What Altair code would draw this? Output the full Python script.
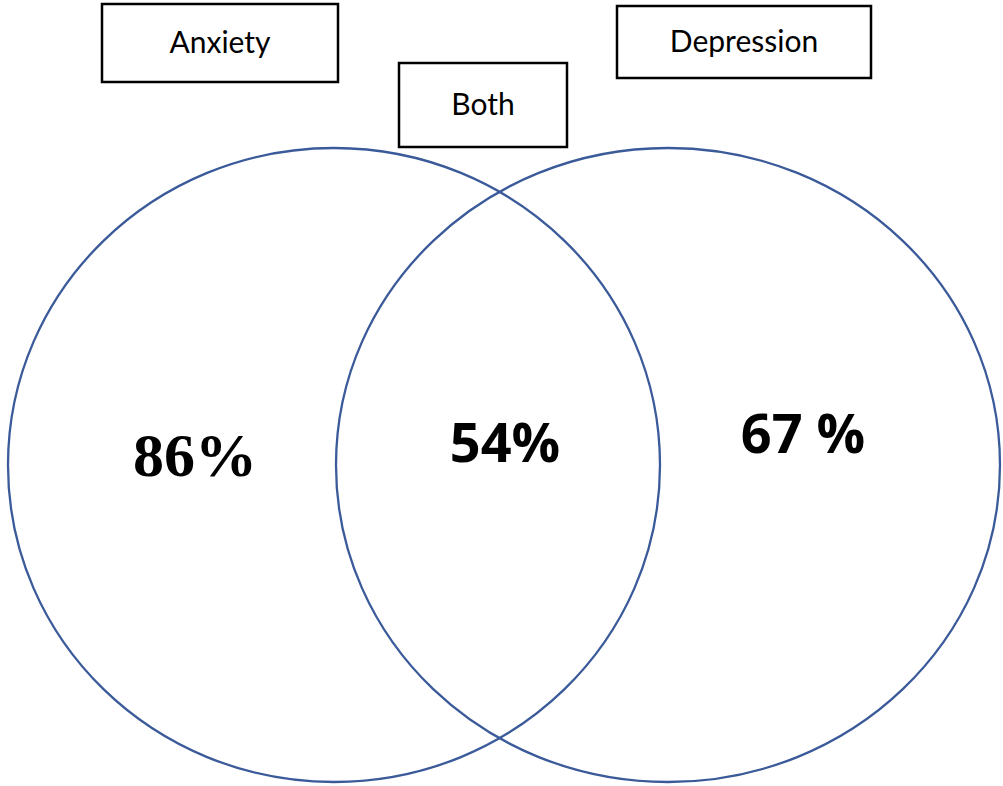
import altair as alt
import pandas as pd

W, H = 1003, 786

# circles (sets)
set_names = ["Anxiety", "Depression"]
circle_cx = [334, 668]
circle_cy = [465, 465]
circle_rx = [326, 332]
circle_ry = [317, 317]

# label boxes
box_labels = ["Anxiety", "Both", "Depression"]
box_x1 = [102, 399, 617]
box_x2 = [338, 567, 871]
box_y1 = [4, 63, 6]
box_y2 = [82, 147, 78]

# percentages
pct_labels = ["86%", "54%", "67 %"]
pct_x = [195, 505, 803]
pct_y = [476, 462, 453]


def ellipse_path(rx, ry):
    k = ry / rx
    return f"M -1 0 A 1 {k:.4f} 0 1 1 1 0 A 1 {k:.4f} 0 1 1 -1 0 Z"


xs = alt.Scale(domain=[0, W], range=[0, W], nice=False, zero=False)
ys = alt.Scale(domain=[0, H], range=[0, H], nice=False, zero=False)

circles = pd.DataFrame({
    "name": set_names, "cx": circle_cx, "cy": circle_cy,
    "size": [(2 * r) ** 2 for r in circle_rx],
    "shape": [ellipse_path(a, b) for a, b in zip(circle_rx, circle_ry)],
})
boxes = pd.DataFrame({
    "label": box_labels, "x1": box_x1, "x2": box_x2, "y1": box_y1, "y2": box_y2,
})
boxes["tx"] = (boxes["x1"] + boxes["x2"]) / 2
boxes["ty"] = (boxes["y1"] + boxes["y2"]) / 2 + 1
pcts = pd.DataFrame({"label": pct_labels, "x": pct_x, "y": pct_y})

circle_layer = alt.Chart(circles).mark_point(
    filled=False, stroke="#3B5A9A", strokeWidth=2.3, opacity=1
).encode(
    x=alt.X("cx:Q", scale=xs, axis=None),
    y=alt.Y("cy:Q", scale=ys, axis=None),
    size=alt.Size("size:Q", scale=None, legend=None),
    shape=alt.Shape("shape:N", scale=None, legend=None),
)

box_layer = alt.Chart(boxes).mark_rect(
    fill="white", stroke="black", strokeWidth=2.5
).encode(
    x=alt.X("x1:Q", scale=xs, axis=None), x2="x2:Q",
    y=alt.Y("y1:Q", scale=ys, axis=None), y2="y2:Q",
)

box_text = alt.Chart(boxes).mark_text(
    font="Lato", fontSize=30, color="black", align="center", baseline="middle"
).encode(
    x=alt.X("tx:Q", scale=xs, axis=None),
    y=alt.Y("ty:Q", scale=ys, axis=None),
    text="label:N",
)

serif_text = alt.Chart(pcts[pcts["label"] == "86%"]).mark_text(
    font="Liberation Serif", fontSize=62, fontWeight="bold", color="black",
    align="center", baseline="alphabetic"
).encode(
    x=alt.X("x:Q", scale=xs, axis=None),
    y=alt.Y("y:Q", scale=ys, axis=None),
    text="label:N",
)

sans_text = alt.Chart(pcts[pcts["label"] != "86%"]).mark_text(
    font="Open Sans", fontSize=54, fontWeight="bold", color="black",
    align="center", baseline="alphabetic"
).encode(
    x=alt.X("x:Q", scale=xs, axis=None),
    y=alt.Y("y:Q", scale=ys, axis=None),
    text="label:N",
)

chart = alt.layer(circle_layer, box_layer, box_text, serif_text, sans_text).properties(
    width=W, height=H, autosize=alt.AutoSizeParams(type="none"), padding=0,
    background="white",
).configure_view(stroke=None)

chart.save("out.html", embed_options={"renderer": "svg", "actions": False})
